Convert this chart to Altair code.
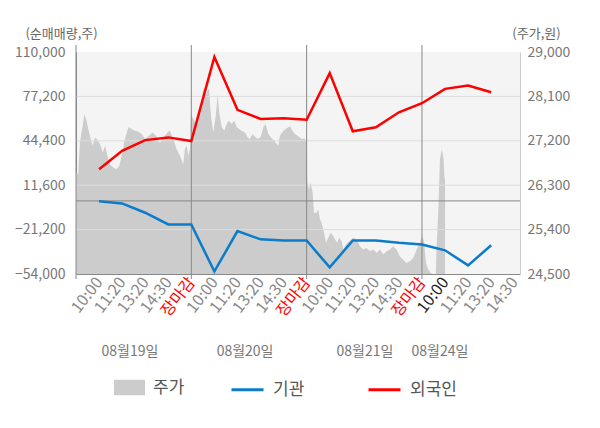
import json
import altair as alt
import pandas as pd

# ---------------- data ----------------
x_labels = ["10:00", "11:20", "13:20", "14:30", "장마감",
            "10:00", "11:20", "13:20", "14:30", "장마감",
            "10:00", "11:20", "13:20", "14:30", "장마감",
            "10:00", "11:20", "13:20", "14:30"]
tick_idx = list(range(1, 20))

date_labels = ["08월19일", "08월20일", "08월21일", "08월24일"]
date_pos = [2.34, 7.33, 12.53, 15.78]

day_breaks = [0, 5, 10, 15]

left_ticks = [110000, 77200, 44400, 11600, -21200, -54000]
right_ticks = [29000, 28100, 27200, 26300, 25400, 24500]

line_idx = list(range(1, 19))
foreign = [23400, 36980, 44920, 46920, 44180, 106290, 67300, 60500, 61000,
           60000, 94400, 51400, 54340, 65480, 72150, 82770, 85220, 80320]
inst = [-300, -1830, -8730, -17420, -17420, -52100, -22300, -28400, -29290,
        -29290, -49100, -29290, -29300, -31000, -32260, -36490, -47620, -32760]

price_idx = [
    0.00, 0.10, 0.17, 0.29, 0.36, 0.46, 0.53, 0.64, 0.72, 0.82, 0.90, 1.04,
    1.16, 1.26, 1.36, 1.47, 1.62, 1.76, 1.88, 1.98, 2.12, 2.27, 2.41, 2.56,
    2.70, 2.85, 2.99, 3.14, 3.32, 3.47, 3.64, 3.79, 3.97, 4.07, 4.22, 4.36,
    4.51, 4.65, 4.72, 4.80, 4.87, 4.94,
    4.98, 5.09, 5.23, 5.33, 5.45, 5.52, 5.62, 5.71, 5.77, 5.85, 5.95, 6.06,
    6.14, 6.21, 6.32, 6.43, 6.53, 6.63, 6.75, 6.86, 6.97, 7.08, 7.18, 7.33,
    7.44, 7.54, 7.66, 7.79, 7.90, 8.02, 8.12, 8.22, 8.34, 8.45, 8.60, 8.70,
    8.77, 8.84, 8.99, 9.13, 9.28, 9.38, 9.49, 9.64, 9.78, 9.90, 9.97,
    10.03, 10.11, 10.17, 10.26, 10.32, 10.43, 10.50, 10.58, 10.65, 10.75,
    10.84, 10.94, 11.04, 11.15, 11.23, 11.33, 11.41, 11.52, 11.59, 11.70,
    11.85, 12.02, 12.17, 12.31, 12.45, 12.60, 12.74, 12.89, 13.03, 13.18,
    13.32, 13.47, 13.61, 13.75, 13.90, 14.04, 14.19, 14.33, 14.48, 14.62,
    14.77, 14.91, 15.00, 15.09, 15.17, 15.27, 15.37, 15.48, 15.60, 15.63,
    15.71, 15.78, 15.86, 15.94, 15.97, 16.00,
]
price_val = [
    26557, 26530, 27167, 27505, 27744, 27607, 27438, 27235, 27098, 27269, 27235, 27133,
    26964, 27098, 26895, 26726, 26659, 26624, 26692, 26895, 27235, 27473, 27438, 27404,
    27384, 27336, 27235, 27290, 27370, 27302, 27153, 27269, 27370, 27404, 27235, 27031,
    26895, 26726, 27031, 27098, 26895, 27031,
    27744, 27640, 27505, 27709, 28049, 28253, 28116, 28218, 28253, 27709, 27370, 27709,
    28151, 27778, 27473, 27404, 27540, 27607, 27540, 27607, 27473, 27438, 27404, 27370,
    27269, 27235, 27336, 27269, 27235, 27290, 27473, 27540, 27336, 27269, 27201, 27133,
    27098, 27302, 27404, 27452, 27493, 27404, 27336, 27290, 27235, 27249, 27200,
    26353, 26217, 26353, 26149, 25742, 25742, 25810, 25606, 25538, 25335,
    25131, 25233, 25335, 25267, 25199, 25131, 25233, 25165, 24995, 25097,
    25165, 25233, 25199, 25063, 24995, 25029, 24961, 24995, 24927, 24995,
    24893, 24961, 24995, 25063, 24995, 24859, 24791, 24724, 24757, 24825,
    24995, 25131, 25267, 25165, 24730, 24590, 24525, 24500, 24500, 24995,
    25810, 26828, 27031, 26828, 26488, 26400,
]

# ---------------- layout / style ----------------
W, H = 444, 222
FONT = "Noto Sans CJK KR"
RED = "#ff0000"
BLUE = "#0a7cc9"
AREA = "#cccccc"

df_price = pd.DataFrame({"idx": price_idx, "price": price_val, "s": "주가"})
df_lines = pd.concat([
    pd.DataFrame({"idx": line_idx, "val": inst, "series": "기관"}),
    pd.DataFrame({"idx": line_idx, "val": foreign, "series": "외국인"}),
])

label_expr = json.dumps(x_labels, ensure_ascii=False) + "[datum.value - 1]"
label_color = ("indexof([5, 10, 15], datum.value) >= 0 ? '#ff0000' : "
               "(datum.value == 16 ? '#222222' : '#888888')")

xs = alt.Scale(domain=[0, 19.25], nice=False, zero=False)
x_axis = alt.Axis(values=tick_idx, labelExpr=label_expr,
                  labelColor=alt.ExprRef(expr=label_color),
                  labelAngle=-52, labelAlign="right", labelBaseline="middle",
                  labelPadding=5, labelFontSize=16, labelOverlap=False,
                  ticks=False, grid=False, domainColor="#888888", title=None)


def X():
    return alt.X("idx:Q", scale=xs, axis=x_axis)


ysL = alt.Scale(domain=[-54000, 110000], nice=False, zero=False)
ysR = alt.Scale(domain=[24500, 29000], nice=False, zero=False)

left_axis = alt.Axis(values=left_ticks, format=",d", ticks=False, grid=False,
                     labelPadding=11, labelFontSize=14, labelColor="#777777",
                     domainColor="#888888", title="(순매매량,주)", titleAngle=0,
                     titleAlign="center", titleBaseline="middle", titleX=-15,
                     titleY=-19, titleFontSize=13, titleFontWeight="normal",
                     titleColor="#666666")
right_axis = alt.Axis(values=right_ticks, format=",d", orient="right", ticks=False,
                      grid=False, labelPadding=7, labelFontSize=14,
                      labelColor="#777777", domainColor="#cccccc",
                      title="(주가,원)", titleAngle=0, titleAlign="center",
                      titleBaseline="middle", titleX=16, titleY=-19,
                      titleFontSize=13, titleFontWeight="normal",
                      titleColor="#666666")

area = alt.Chart(df_price).mark_area(opacity=1, interpolate="linear").encode(
    x=X(),
    y=alt.Y("price:Q", scale=ysR, axis=right_axis),
    y2=alt.datum(24500),
    color=alt.Color("s:N", scale=alt.Scale(domain=["주가"], range=[AREA]),
                    legend=alt.Legend(orient="none", legendX=38, legendY=320,
                                      direction="horizontal", title=None,
                                      symbolType="M-1,-0.5H1V0.5H-1Z",
                                      symbolSize=961, symbolStrokeWidth=0,
                                      labelOffset=8, labelFontSize=17,
                                      labelColor="#555555")),
)

grid = alt.Chart(pd.DataFrame({"v": left_ticks[1:-1]})).mark_rule(
    color="#dddddd", strokeWidth=1).encode(
    y=alt.Y("v:Q", scale=ysL, axis=None))

zero = alt.Chart(pd.DataFrame({"v": [0]})).mark_rule(
    color="#888888", strokeWidth=1).encode(
    y=alt.Y("v:Q", scale=ysL, axis=None))

seps = alt.Chart(pd.DataFrame({"idx": day_breaks})).mark_rule(
    color="#888888", strokeWidth=1).encode(
    x=X(), y=alt.value(-7), y2=alt.value(H + 5))

lines = alt.Chart(df_lines).mark_line(strokeWidth=2.5).encode(
    x=X(),
    y=alt.Y("val:Q", scale=ysL, axis=left_axis),
    color=alt.Color("series:N",
                    scale=alt.Scale(domain=["기관", "외국인"], range=[BLUE, RED]),
                    legend=alt.Legend(orient="none", legendX=154, legendY=320,
                                      direction="horizontal", title=None,
                                      symbolType="stroke", symbolSize=1024,
                                      symbolStrokeWidth=3, labelOffset=8,
                                      columnPadding=57, labelFontSize=17,
                                      labelColor="#555555")),
)

dates = alt.Chart(pd.DataFrame({"idx": date_pos, "t": date_labels})).mark_text(
    fontSize=14, color="#777777", baseline="middle").encode(
    x=X(), y=alt.value(300), text="t:N")

chart = alt.layer(area, grid, zero, seps, lines, dates).resolve_scale(
    y="independent", color="independent"
).properties(
    width=W, height=H,
    autosize=alt.AutoSizeParams(type="none"),
    padding={"left": 68, "top": 44, "right": 72, "bottom": 140},
).configure(font=FONT).configure_view(fill="#f4f4f4", strokeWidth=0)

chart.save("out.html", embed_options={"renderer": "svg", "actions": False})
